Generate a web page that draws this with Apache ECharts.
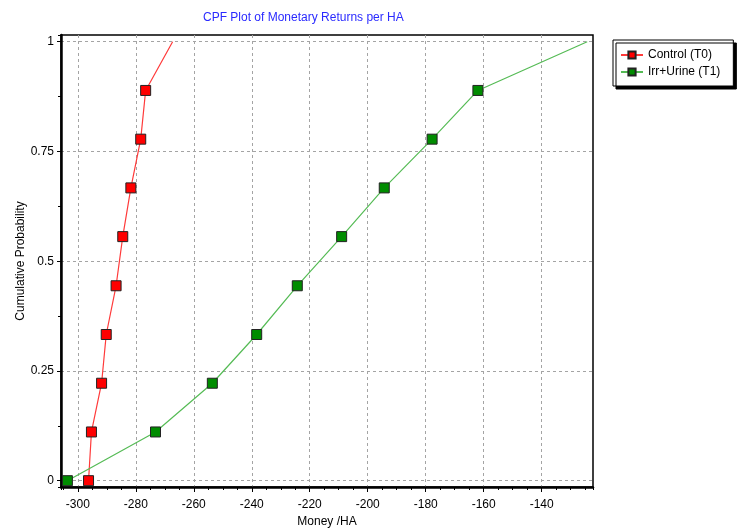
<!DOCTYPE html>
<html>
<head>
<meta charset="utf-8">
<title>CPF Plot of Monetary Returns per HA</title>
<script src="https://cdn.jsdelivr.net/npm/echarts@6/dist/echarts.min.js"></script>
<style>
  html, body { margin: 0; padding: 0; background: #ffffff; }
  #chart { width: 738px; height: 529px; }
</style>
</head>
<body>
<div id="chart"></div>
<script>
// Cumulative probability levels shared by both treatments
const cumProb = [0, 0.111, 0.222, 0.333, 0.444, 0.556, 0.667, 0.778, 0.889, 1];

// Monetary returns per HA, sorted ascending
const controlT0 = [-296.3, -295.3, -291.8, -290.2, -286.8, -284.5, -281.7, -278.3, -276.6, -267.3];
const irrUrineT1 = [-303.6, -273.2, -253.6, -238.3, -224.3, -209.0, -194.3, -177.8, -162.0, -124.3];

const seriesNames = ['Control (T0)', 'Irr+Urine (T1)'];

// Axis extents (slightly padded around the data)
const xMin = -305.8, xMax = -122.3;
const yMin = -0.0144, yMax = 1.0153;

const FONT = 'Liberation Sans, Arial, sans-serif';

// Points at the top of the curve (probability 1) carry no marker
function toPoints(xs) {
  return xs.map((x, i) => {
    const item = { value: [x, cumProb[i]] };
    if (cumProb[i] === 1) item.symbol = 'none';
    return item;
  });
}

const chart = echarts.init(document.getElementById('chart'), null, { renderer: 'canvas' });

const dashed = { type: [3, 3], color: '#a4a4a4', width: 1 };

chart.setOption({
  animation: false,
  backgroundColor: '#ffffff',
  textStyle: { fontFamily: FONT },
  title: {
    text: 'CPF Plot of Monetary Returns per HA',
    left: 198,
    top: 7,
    textStyle: { color: '#2a2aff', fontSize: 12, fontWeight: 'normal', fontFamily: FONT }
  },
  legend: {
    orient: 'vertical',
    left: 613,
    top: 40,
    data: seriesNames,
    itemWidth: 22,
    itemHeight: 9,
    itemGap: 5,
    padding: [9, 13, 8, 7],
    backgroundColor: '#ffffff',
    borderColor: '#000000',
    borderWidth: 1,
    shadowColor: '#000000',
    shadowBlur: 0,
    shadowOffsetX: 3,
    shadowOffsetY: 3,
    textStyle: { color: '#000000', fontSize: 12, fontFamily: FONT }
  },
  grid: {
    left: 61,
    right: 145,
    top: 35,
    bottom: 42,
    containLabel: false,
    outerBoundsMode: 'none',
    show: true,
    borderColor: '#000000',
    borderWidth: 1.5,
    backgroundColor: '#ffffff'
  },
  xAxis: [
    {
      type: 'value',
      position: 'bottom',
      min: xMin,
      max: xMax,
      splitNumber: 9,
      minInterval: 20,
      maxInterval: 20,
      name: 'Money /HA',
      nameLocation: 'middle',
      nameGap: 29,
      nameMoveOverlap: false,
      nameTextStyle: { color: '#000000', fontSize: 12, fontFamily: FONT },
      axisLine: { show: true, onZero: false, lineStyle: { color: '#000000', width: 2.5 } },
      axisTick: { show: true, length: 5, lineStyle: { color: '#000000' } },
      axisLabel: { color: '#000000', fontSize: 12, margin: 12, showMinLabel: false, showMaxLabel: false },
      splitLine: { show: true, showMinLine: false, showMaxLine: false, lineStyle: dashed }
    },
    {
      // fine ticks every 5 units
      type: 'value',
      position: 'bottom',
      min: xMin,
      max: xMax,
      splitNumber: 37,
      minInterval: 5,
      maxInterval: 5,
      axisLine: { show: false, onZero: false },
      axisTick: { show: true, length: 3, lineStyle: { color: '#000000' } },
      axisLabel: { show: false },
      splitLine: { show: false }
    }
  ],
  yAxis: [
    {
      type: 'value',
      position: 'left',
      min: yMin,
      max: yMax,
      splitNumber: 4,
      minInterval: 0.25,
      maxInterval: 0.25,
      name: 'Cumulative Probability',
      nameLocation: 'middle',
      nameGap: 34,
      nameRotate: 90,
      nameMoveOverlap: false,
      nameTextStyle: { color: '#000000', fontSize: 12, fontFamily: FONT },
      axisLine: { show: true, onZero: false, lineStyle: { color: '#000000', width: 2.5 } },
      axisTick: { show: true, length: 4, lineStyle: { color: '#000000' } },
      axisLabel: { color: '#000000', fontSize: 12, margin: 7, showMinLabel: false, showMaxLabel: false },
      splitLine: { show: true, showMinLine: false, showMaxLine: false, lineStyle: dashed }
    },
    {
      // half-step ticks
      type: 'value',
      position: 'left',
      min: yMin,
      max: yMax,
      splitNumber: 8,
      minInterval: 0.125,
      maxInterval: 0.125,
      axisLine: { show: false, onZero: false },
      axisTick: { show: true, length: 3, lineStyle: { color: '#000000' } },
      axisLabel: { show: false },
      splitLine: { show: false }
    }
  ],
  series: [
    {
      name: seriesNames[0],
      type: 'line',
      xAxisIndex: 0,
      yAxisIndex: 0,
      data: toPoints(controlT0),
      symbol: 'rect',
      symbolSize: 10,
      showAllSymbol: true,
      itemStyle: { color: '#ff0000', borderColor: '#222222', borderWidth: 1 },
      lineStyle: { color: '#ff3a3a', width: 1.2 },
      emphasis: { disabled: true },
      z: 3
    },
    {
      name: seriesNames[1],
      type: 'line',
      xAxisIndex: 0,
      yAxisIndex: 0,
      data: toPoints(irrUrineT1),
      symbol: 'rect',
      symbolSize: 10,
      showAllSymbol: true,
      itemStyle: { color: '#008c00', borderColor: '#222222', borderWidth: 1 },
      lineStyle: { color: '#55bb55', width: 1.2 },
      emphasis: { disabled: true },
      z: 3
    }
  ]
});
</script>
</body>
</html>
